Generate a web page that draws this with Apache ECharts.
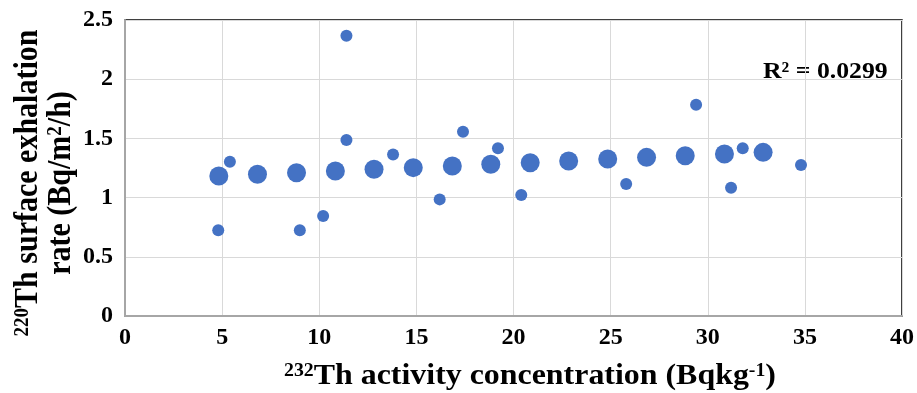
<!DOCTYPE html>
<html>
<head>
<meta charset="utf-8">
<script src="https://cdn.jsdelivr.net/npm/echarts@6/dist/echarts.min.js"></script>
<style>
html,body{margin:0;padding:0;background:#fff;}
#chart{width:917px;height:393px;}
</style>
</head>
<body>
<div id="chart"></div>
<script>
// Large markers
var bigX = [4.83, 6.82, 8.83, 10.83, 12.82, 14.84, 16.85, 18.83, 20.86, 22.84, 24.85, 26.85, 28.84, 30.86, 32.85];
var bigY = [1.182, 1.197, 1.21, 1.225, 1.239, 1.253, 1.267, 1.281, 1.295, 1.309, 1.326, 1.34, 1.354, 1.368, 1.382];
// Small markers
var smallX = [4.8, 5.4, 9.0, 10.2, 11.4, 11.4, 13.8, 16.2, 17.4, 19.2, 20.4, 25.8, 29.4, 31.2, 31.8, 34.8];
var smallY = [0.724, 1.303, 0.724, 0.845, 2.367, 1.486, 1.365, 0.985, 1.557, 1.416, 1.022, 1.115, 1.785, 1.084, 1.416, 1.275];
var xTicks = [0, 5, 10, 15, 20, 25, 30, 35, 40];
var yTicks = [0, 0.5, 1, 1.5, 2, 2.5];
var r2Text = 'R\u00b2 = 0.0299';
var xTitle = '{sup|232}{t|Th activity concentration (Bqkg}{sup|-1}{t|)}';
var yTitle = '{sup|220}{t|Th surface exhalation}\n{t|rate (Bq/m}{sup|2}{t|/h)}';

function pairs(xs, ys){ return xs.map(function(x,i){ return [x, ys[i]]; }); }

var font = '"Liberation Serif", "Times New Roman", serif';
function titleRich(fs, lh){
  return {
    t: {fontFamily: font, fontWeight: 'bold', fontSize: fs, fill: '#000', lineHeight: lh},
    sup: {fontFamily: font, fontWeight: 'bold', fontSize: Math.round(fs * 0.62), fill: '#000', lineHeight: lh, verticalAlign: 'top'}
  };
}
var chart = echarts.init(document.getElementById('chart'));
chart.setOption({
  animation: false,
  grid: {left: 125, right: 14, top: 20, bottom: 77, show: true, borderColor: '#000', borderWidth: 1.5},
  xAxis: {
    type: 'value', min: xTicks[0], max: xTicks[xTicks.length-1], interval: 5,
    axisLine: {show: true, lineStyle: {color: '#a6a6a6', width: 2}},
    axisTick: {show: false},
    splitLine: {show: true, lineStyle: {color: '#d9d9d9', width: 1}},
    axisLabel: {fontFamily: font, fontWeight: 'bold', fontSize: 24, color: '#000', margin: 10}
  },
  yAxis: {
    type: 'value', min: yTicks[0], max: yTicks[yTicks.length-1], interval: 0.5,
    axisLine: {show: true, lineStyle: {color: '#a6a6a6', width: 2}},
    axisTick: {show: false},
    splitLine: {show: true, lineStyle: {color: '#d9d9d9', width: 1}},
    axisLabel: {fontFamily: font, fontWeight: 'bold', fontSize: 24, color: '#000', margin: 12}
  },
  series: [
    {type: 'scatter', data: pairs(bigX, bigY), symbolSize: 19, itemStyle: {color: '#4472C4', opacity: 1}},
    {type: 'scatter', data: pairs(smallX, smallY), symbolSize: 12, itemStyle: {color: '#4472C4', opacity: 1}}
  ],
  graphic: [
    {type: 'text', x: 763, y: 61, scaleX: 1.12,
     style: {text: r2Text, fontFamily: font, fontWeight: 'bold', fontSize: 23, fill: '#000'}},
    {type: 'text', x: 530, y: 377, scaleX: 1.1,
     style: {text: xTitle, align: 'center', verticalAlign: 'middle', rich: titleRich(29, 30)}},
    {type: 'text', x: 45, y: 183, rotation: Math.PI / 2, scaleY: 1.12,
     style: {text: yTitle, align: 'center', verticalAlign: 'middle', rich: titleRich(30, 30)}}
  ]
});
</script>
</body>
</html>
